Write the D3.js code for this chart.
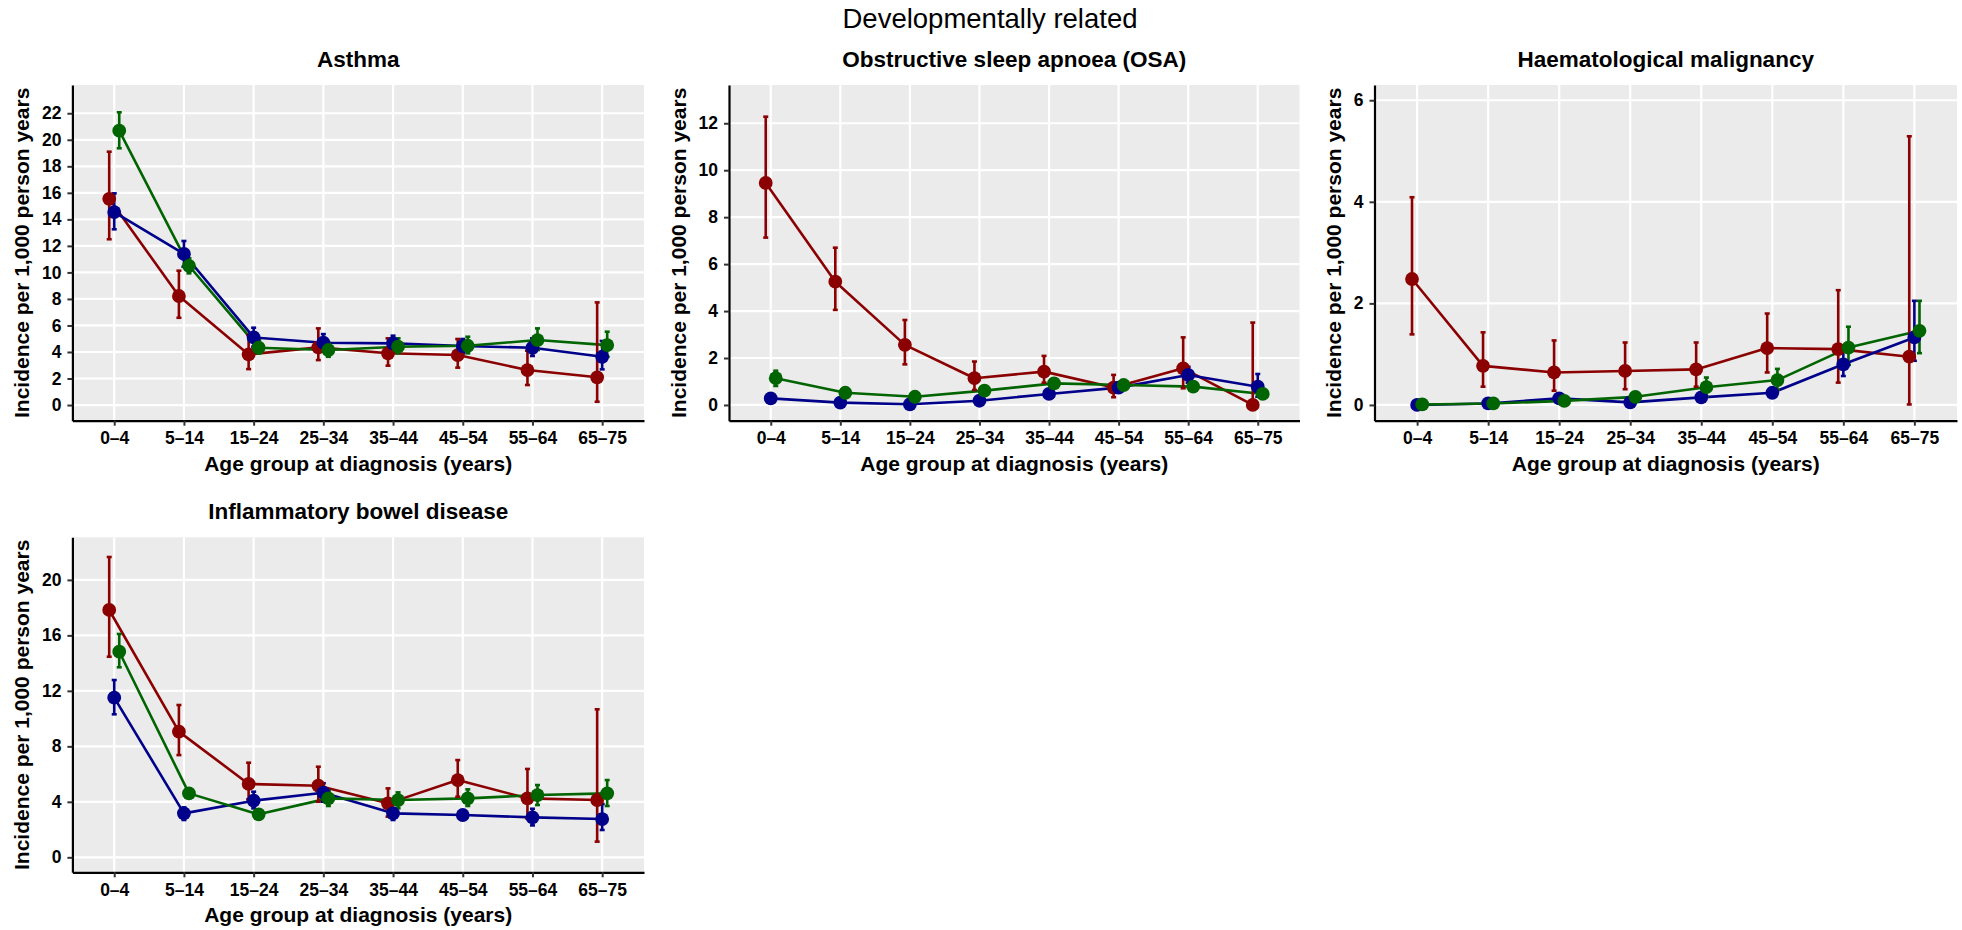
<!DOCTYPE html>
<html>
<head>
<meta charset="utf-8">
<script src="https://cdn.jsdelivr.net/npm/d3@7"></script>
<style>
  html, body { margin: 0; padding: 0; background: #ffffff; }
  svg { display: block; }
  text { font-family: "Liberation Sans", Arial, Helvetica, sans-serif; }
</style>
</head>
<body>
<svg id="chart" width="1962" height="930"></svg>
<script>
// ---------------- data ----------------
const categories = ["0\u20134", "5\u201314", "15\u201324", "25\u201334", "35\u201344", "45\u201354", "55\u201364", "65\u201375"];
const mainTitle = "Developmentally related";
const xAxisTitle = "Age group at diagnosis (years)";
const yAxisTitle = "Incidence per 1,000 person years";
const seriesKeys = ["red", "blue", "green"];

// Asthma
const asthmaRed     = [15.55, 8.22, 3.82, 4.35, 3.90, 3.77, 2.64, 2.09];
const asthmaRedLo   = [12.50, 6.58, 2.71, 3.39, 2.97, 2.82, 1.51, 0.25];
const asthmaRedHi   = [19.10, 10.13, 5.28, 5.78, 5.03, 4.98, 4.10, 7.74];
const asthmaBlue    = [14.55, 11.39, 5.10, 4.70, 4.65, 4.45, 4.32, 3.64];
const asthmaBlueLo  = [13.25, 10.43, 4.40, 4.02, 4.02, 3.90, 3.70, 2.69];
const asthmaBlueHi  = [15.96, 12.37, 5.83, 5.35, 5.23, 4.98, 5.03, 4.83];
const asthmaGreen   = [20.69, 10.50, 4.32, 4.15, 4.40, 4.47, 4.90, 4.52];
const asthmaGreenLo = [19.36, 9.93, 3.90, 3.64, 3.90, 3.90, 4.15, 3.64];
const asthmaGreenHi = [22.07, 11.06, 4.90, 4.70, 5.03, 5.15, 5.78, 5.53];
const asthmaTicks   = [0, 2, 4, 6, 8, 10, 12, 14, 16, 18, 20, 22];

// Obstructive sleep apnoea
const osaRed     = [9.46, 5.25, 2.56, 1.14, 1.42, 0.74, 1.56, 0.00];
const osaRedLo   = [7.13, 4.05, 1.73, 0.64, 0.95, 0.33, 0.71, 0.00];
const osaRedHi   = [12.28, 6.70, 3.62, 1.85, 2.09, 1.28, 2.88, 3.51];
const osaBlue    = [0.28, 0.10, 0.03, 0.18, 0.47, 0.74, 1.28, 0.78];
const osaBlueLo  = [0.20, 0.05, 0.00, 0.12, 0.38, 0.60, 0.95, 0.35];
const osaBlueHi  = [0.38, 0.16, 0.07, 0.26, 0.58, 0.90, 1.62, 1.32];
const osaGreen   = [1.14, 0.52, 0.35, 0.61, 0.92, 0.85, 0.78, 0.47];
const osaGreenLo = [0.81, 0.42, 0.27, 0.50, 0.77, 0.70, 0.60, 0.30];
const osaGreenHi = [1.46, 0.63, 0.44, 0.75, 1.08, 1.02, 0.95, 0.65];
const osaTicks   = [0, 2, 4, 6, 8, 10, 12];

// Haematological malignancy
const haemRed     = [2.48, 0.77, 0.64, 0.67, 0.70, 1.12, 1.10, 0.95];
const haemRedLo   = [1.39, 0.36, 0.28, 0.31, 0.36, 0.64, 0.44, 0.01];
const haemRedHi   = [4.09, 1.43, 1.27, 1.23, 1.23, 1.80, 2.26, 5.29];
const haemBlue    = [0.00, 0.03, 0.13, 0.05, 0.15, 0.24, 0.80, 1.33];
const haemBlueLo  = [0.00, 0.01, 0.07, 0.02, 0.10, 0.18, 0.57, 0.87];
const haemBlueHi  = [0.02, 0.06, 0.20, 0.09, 0.22, 0.32, 1.08, 2.05];
const haemGreen   = [0.01, 0.03, 0.08, 0.16, 0.35, 0.49, 1.13, 1.46];
const haemGreenLo = [0.00, 0.01, 0.04, 0.10, 0.16, 0.30, 0.79, 1.02];
const haemGreenHi = [0.03, 0.06, 0.13, 0.25, 0.54, 0.71, 1.54, 2.05];
const haemTicks   = [0, 2, 4, 6];

// Inflammatory bowel disease
const ibdRed     = [17.83, 9.06, 5.29, 5.16, 3.89, 5.57, 4.25, 4.13];
const ibdRedLo   = [14.46, 7.37, 4.18, 4.01, 2.93, 4.37, 2.81, 1.13];
const ibdRedHi   = [21.65, 10.98, 6.82, 6.53, 4.97, 7.01, 6.37, 10.67];
const ibdBlue    = [11.51, 3.17, 4.08, 4.66, 3.17, 3.05, 2.88, 2.76];
const ibdBlueLo  = [10.31, 2.69, 3.53, 4.01, 2.69, 2.75, 2.30, 1.97];
const ibdBlueHi  = [12.78, 3.60, 4.73, 5.34, 3.55, 3.35, 3.50, 3.84];
const ibdGreen   = [14.82, 4.61, 3.10, 4.25, 4.13, 4.25, 4.49, 4.61];
const ibdGreenLo = [13.70, 4.36, 2.90, 3.70, 3.53, 3.70, 3.77, 3.70];
const ibdGreenHi = [16.10, 4.86, 3.30, 4.80, 4.68, 4.90, 5.21, 5.57];
const ibdTicks   = [0, 4, 8, 12, 16, 20];

// ---------------- styling / layout ----------------
const colors = { red: "#8B0000", blue: "#00008B", green: "#006400" };
const dodge = { red: -0.072, blue: 0, green: 0.072 }; // in step units

const panels = [
  { title: "Asthma", left: 72.4, right: 644, top: 85, bottom: 420.7, yDomain: [-1.18, 24.13], ticks: asthmaTicks,
    series: { red: [asthmaRed, asthmaRedLo, asthmaRedHi], blue: [asthmaBlue, asthmaBlueLo, asthmaBlueHi], green: [asthmaGreen, asthmaGreenLo, asthmaGreenHi] } },
  { title: "Obstructive sleep apnoea (OSA)", left: 729, right: 1299.5, top: 85, bottom: 420.7, yDomain: [-0.67, 13.63], ticks: osaTicks,
    series: { red: [osaRed, osaRedLo, osaRedHi], blue: [osaBlue, osaBlueLo, osaBlueHi], green: [osaGreen, osaGreenLo, osaGreenHi] } },
  { title: "Haematological malignancy", left: 1374.5, right: 1957, top: 85, bottom: 420.7, yDomain: [-0.31, 6.3], ticks: haemTicks,
    series: { red: [haemRed, haemRedLo, haemRedHi], blue: [haemBlue, haemBlueLo, haemBlueHi], green: [haemGreen, haemGreenLo, haemGreenHi] } },
  { title: "Inflammatory bowel disease", left: 72.4, right: 644, top: 537.3, bottom: 872.3, yDomain: [-1.08, 23.07], ticks: ibdTicks,
    series: { red: [ibdRed, ibdRedLo, ibdRedHi], blue: [ibdBlue, ibdBlueLo, ibdBlueHi], green: [ibdGreen, ibdGreenLo, ibdGreenHi] } }
];

const svg = d3.select("#chart");
svg.append("rect").attr("width", 1962).attr("height", 930).attr("fill", "#ffffff");

svg.append("text")
  .attr("x", 990).attr("y", 28)
  .attr("text-anchor", "middle")
  .attr("font-size", 27.5)
  .attr("fill", "#000")
  .text(mainTitle);

panels.forEach(p => {
  const g = svg.append("g");
  const x = d3.scalePoint().domain(categories).range([p.left, p.right]).padding(0.6);
  const y = d3.scaleLinear().domain(p.yDomain).range([p.bottom, p.top]);
  const step = x.step();

  // background
  g.append("rect")
    .attr("x", p.left).attr("y", p.top)
    .attr("width", p.right - p.left).attr("height", p.bottom - p.top)
    .attr("fill", "#EBEBEB");

  // grid
  g.append("g").selectAll("line").data(p.ticks).join("line")
    .attr("x1", p.left).attr("x2", p.right)
    .attr("y1", d => y(d)).attr("y2", d => y(d))
    .attr("stroke", "#ffffff").attr("stroke-width", 2.2);
  g.append("g").selectAll("line").data(categories).join("line")
    .attr("x1", d => x(d)).attr("x2", d => x(d))
    .attr("y1", p.top).attr("y2", p.bottom)
    .attr("stroke", "#ffffff").attr("stroke-width", 2.2);

  const pts = k => categories.map((c, i) => ({
    cx: x(c) + dodge[k] * step,
    v: p.series[k][0][i], lo: p.series[k][1][i], hi: p.series[k][2][i]
  }));

  const line = d3.line().x(d => d.cx).y(d => y(d.v));

  // lines
  seriesKeys.forEach(k => {
    g.append("path").datum(pts(k))
      .attr("d", line)
      .attr("fill", "none")
      .attr("stroke", colors[k])
      .attr("stroke-width", 2.6)
      .attr("stroke-linejoin", "round");
  });
  // error bars
  seriesKeys.forEach(k => {
    const eg = g.append("g").attr("stroke", colors[k]).attr("stroke-width", 2.6);
    const data = pts(k);
    eg.selectAll("line.v").data(data).join("line").attr("class", "v")
      .attr("x1", d => d.cx).attr("x2", d => d.cx)
      .attr("y1", d => y(d.lo)).attr("y2", d => y(d.hi));
    eg.selectAll("line.t").data(data).join("line").attr("class", "t")
      .attr("x1", d => d.cx - 2.5).attr("x2", d => d.cx + 2.5)
      .attr("y1", d => y(d.hi)).attr("y2", d => y(d.hi));
    eg.selectAll("line.b").data(data).join("line").attr("class", "b")
      .attr("x1", d => d.cx - 2.5).attr("x2", d => d.cx + 2.5)
      .attr("y1", d => y(d.lo)).attr("y2", d => y(d.lo));
  });
  // points
  seriesKeys.forEach(k => {
    g.append("g").selectAll("circle").data(pts(k)).join("circle")
      .attr("cx", d => d.cx).attr("cy", d => y(d.v))
      .attr("r", 6.9)
      .attr("fill", colors[k]);
  });

  // axes
  const yAxis = g.append("g")
    .attr("transform", `translate(${p.left},0)`)
    .call(d3.axisLeft(y).tickValues(p.ticks).tickFormat(d3.format("d")).tickSize(5).tickSizeOuter(0).tickPadding(6));
  const xAxis = g.append("g")
    .attr("transform", `translate(0,${p.bottom})`)
    .call(d3.axisBottom(x).tickSize(5).tickSizeOuter(0).tickPadding(6));

  [yAxis, xAxis].forEach(a => {
    a.select(".domain").attr("stroke", "#000").attr("stroke-width", 2.2);
    a.selectAll(".tick line").attr("stroke", "#333").attr("stroke-width", 2);
    a.selectAll(".tick text")
      .attr("font-size", 17.5).attr("font-weight", "bold")
      .attr("font-family", "'Liberation Sans', Arial, Helvetica, sans-serif")
      .attr("fill", "#000");
  });

  let maxW = 0;
  yAxis.selectAll(".tick text").each(function () { maxW = Math.max(maxW, this.getBBox().width); });

  // panel title
  g.append("text")
    .attr("x", (p.left + p.right) / 2).attr("y", p.top - 18.3)
    .attr("text-anchor", "middle")
    .attr("font-size", 22.5).attr("font-weight", "bold").attr("fill", "#000")
    .text(p.title);

  // x axis title
  g.append("text")
    .attr("x", (p.left + p.right) / 2).attr("y", p.bottom + 50)
    .attr("text-anchor", "middle")
    .attr("font-size", 21).attr("font-weight", "bold").attr("fill", "#000")
    .text(xAxisTitle);

  // y axis title
  const tx = p.left - 11 - maxW - 12.5;
  const ty = (p.top + p.bottom) / 2;
  g.append("text")
    .attr("transform", `translate(${tx},${ty}) rotate(-90)`)
    .attr("text-anchor", "middle")
    .attr("font-size", 21).attr("font-weight", "bold").attr("fill", "#000")
    .text(yAxisTitle);
});
</script>
</body>
</html>
